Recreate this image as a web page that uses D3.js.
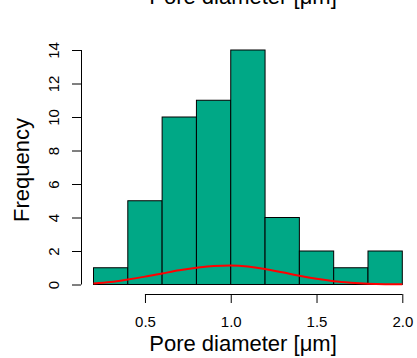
<!DOCTYPE html>
<html><head><meta charset="utf-8">
<script src="https://cdn.jsdelivr.net/npm/d3@7"></script>
<style>body{margin:0;background:#fff}svg{display:block}text{font-family:"Liberation Sans",Arial,Helvetica,sans-serif;fill:#000}</style>
</head><body>
<script>
const binStarts = [0.2,0.4,0.6,0.8,1.0,1.2,1.4,1.6,1.8];
const binWidth = 0.2;
const counts = [1,5,10,11,14,4,2,1,2];
const curveX = [0.2,0.3,0.4,0.5,0.6,0.7,0.8,0.9,1.0,1.1,1.2,1.3,1.4,1.5,1.6,1.7,1.8,1.9,2.0];
const curveY = [0.06,0.15,0.3,0.47,0.66,0.85,1.0,1.11,1.14,1.08,0.93,0.73,0.52,0.34,0.2,0.11,0.05,0.02,0.01];
const xTicks = [0.5,1.0,1.5,2.0];
const yTicks = [0,2,4,6,8,10,12,14];
const titleText = "Pore diameter [\u03bcm]";
const xLabel = "Pore diameter [\u03bcm]";
const yLabel = "Frequency";

const W=417,H=358;
const svg=d3.select("body").append("svg").attr("width",W).attr("height",H);
const x=d3.scaleLinear().domain([0.2,2.0]).range([93.5,402.3]);
const y=d3.scaleLinear().domain([0,14]).range([284.5,50]);

svg.append("text").attr("x",243).attr("y",4).attr("text-anchor","middle").style("font-size","22px").text(titleText);

svg.selectAll("rect.bar").data(counts).enter().append("rect").attr("class","bar")
  .attr("x",(d,i)=>x(binStarts[i])).attr("width",(d,i)=>x(binStarts[i]+binWidth)-x(binStarts[i]))
  .attr("y",d=>y(d)).attr("height",d=>y(0)-y(d))
  .attr("fill","#00A886").attr("stroke","#000").attr("stroke-width",1);

const line=d3.line().x((d,i)=>x(curveX[i])).y(d=>y(d)).curve(d3.curveMonotoneX);
svg.append("path").attr("d",line(curveY)).attr("fill","none").attr("stroke","#ff0000").attr("stroke-width",2);

// x axis
const xa=svg.append("g").attr("transform","translate(0,294)")
  .call(d3.axisBottom(x).tickValues(xTicks).tickFormat(d3.format(".1f")).tickSize(9).tickSizeOuter(0));
xa.select(".domain").attr("stroke","#000").attr("d",`M${x(0.5)},0.5H${x(2.0)}`);
xa.selectAll(".tick line").attr("stroke","#000");
xa.selectAll(".tick text").attr("y",33).attr("dy",0).style("font-size","15px").style("font-family",'"Liberation Sans",Arial,sans-serif');

// y axis
const ya=svg.append("g").attr("transform","translate(81,0)")
  .call(d3.axisLeft(y).tickValues(yTicks).tickSize(9).tickSizeOuter(0));
ya.select(".domain").attr("stroke","#000").attr("d",`M0.5,${y(0)}V${y(14)}`);
ya.selectAll(".tick line").attr("stroke","#000");
ya.selectAll(".tick text").attr("x",null).attr("dy",0).attr("text-anchor","middle")
  .attr("transform","translate(-22.5,0) rotate(-90)").style("font-size","15px").style("font-family",'"Liberation Sans",Arial,sans-serif');

svg.append("text").attr("x",243).attr("y",351).attr("text-anchor","middle").style("font-size","22px").text(xLabel);
svg.append("text").attr("transform","translate(28.5,170) rotate(-90)").attr("text-anchor","middle").style("font-size","22px").text(yLabel);
</script>
</body></html>
